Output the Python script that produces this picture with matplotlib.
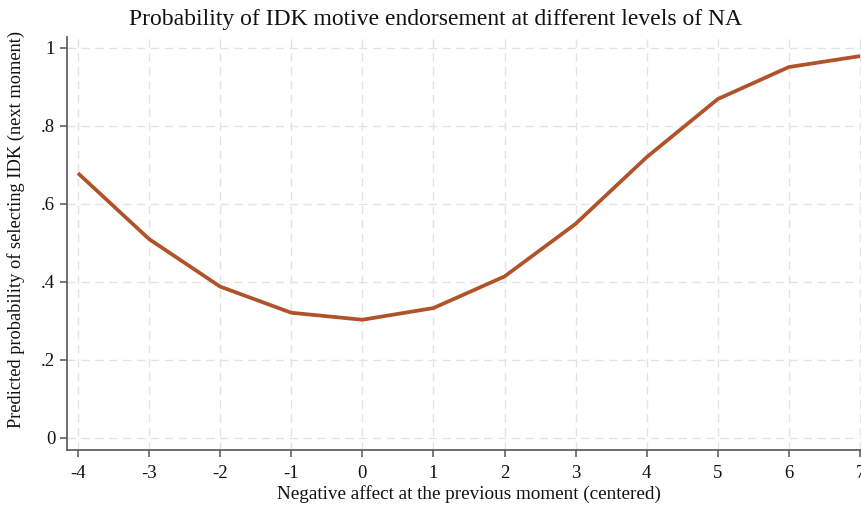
import matplotlib
matplotlib.use("Agg")
import matplotlib.pyplot as plt

# predicted probability of IDK by centered negative affect
na_levels = [-4, -3, -2, -1, 0, 1, 2, 3, 4, 5, 6, 7]
prob_idk = [0.679, 0.51, 0.388, 0.321, 0.303, 0.333, 0.414, 0.549, 0.72, 0.869, 0.951, 0.979]
y_ticks = [0, 0.2, 0.4, 0.6, 0.8, 1.0]
y_tick_labels = ["0", ".2", ".4", ".6", ".8", "1"]

plt.rcParams['font.family'] = ['Liberation Serif', 'DejaVu Serif']

fig = plt.figure(figsize=(8.62, 5.09), dpi=100)
ax = fig.add_axes([0.0777, 0.1159, 0.9324, 0.8114])

ax.plot(na_levels, prob_idk, color="#B0532A", linewidth=2.7, solid_capstyle="butt", zorder=3)

ax.set_xlim(-4.154, 7.15)
ax.set_ylim(-0.031, 1.028)
ax.set_xticks(na_levels)
ax.set_xticklabels([str(v) for v in na_levels])
ax.set_yticks(y_ticks)
ax.set_yticklabels(y_tick_labels)

ax.grid(True, color="#e3e3e3", linestyle=(0, (6, 4)), linewidth=1.0)
ax.set_axisbelow(True)

for side in ["top", "right"]:
    ax.spines[side].set_visible(False)
for side in ["left", "bottom"]:
    ax.spines[side].set_color("#555555")
    ax.spines[side].set_linewidth(1.2)

ax.tick_params(axis="both", direction="out", length=5, width=1.1, color="#555555",
               labelsize=13.5, labelcolor="#111111")
ax.tick_params(axis="x", pad=6)

ax.set_xlabel("Negative affect at the previous moment (centered)", fontsize=13.8, color="#111111", labelpad=2)
ax.set_ylabel("Predicted probability of selecting IDK (next moment)", fontsize=13.2, color="#111111", labelpad=8)
ax.yaxis.set_label_coords(-0.052, 0.535)
fig.text(0.505, 0.962, "Probability of IDK motive endorsement at different levels of NA",
         ha="center", va="center", fontsize=17, color="#111111")

fig.savefig("out.png", dpi=100)
